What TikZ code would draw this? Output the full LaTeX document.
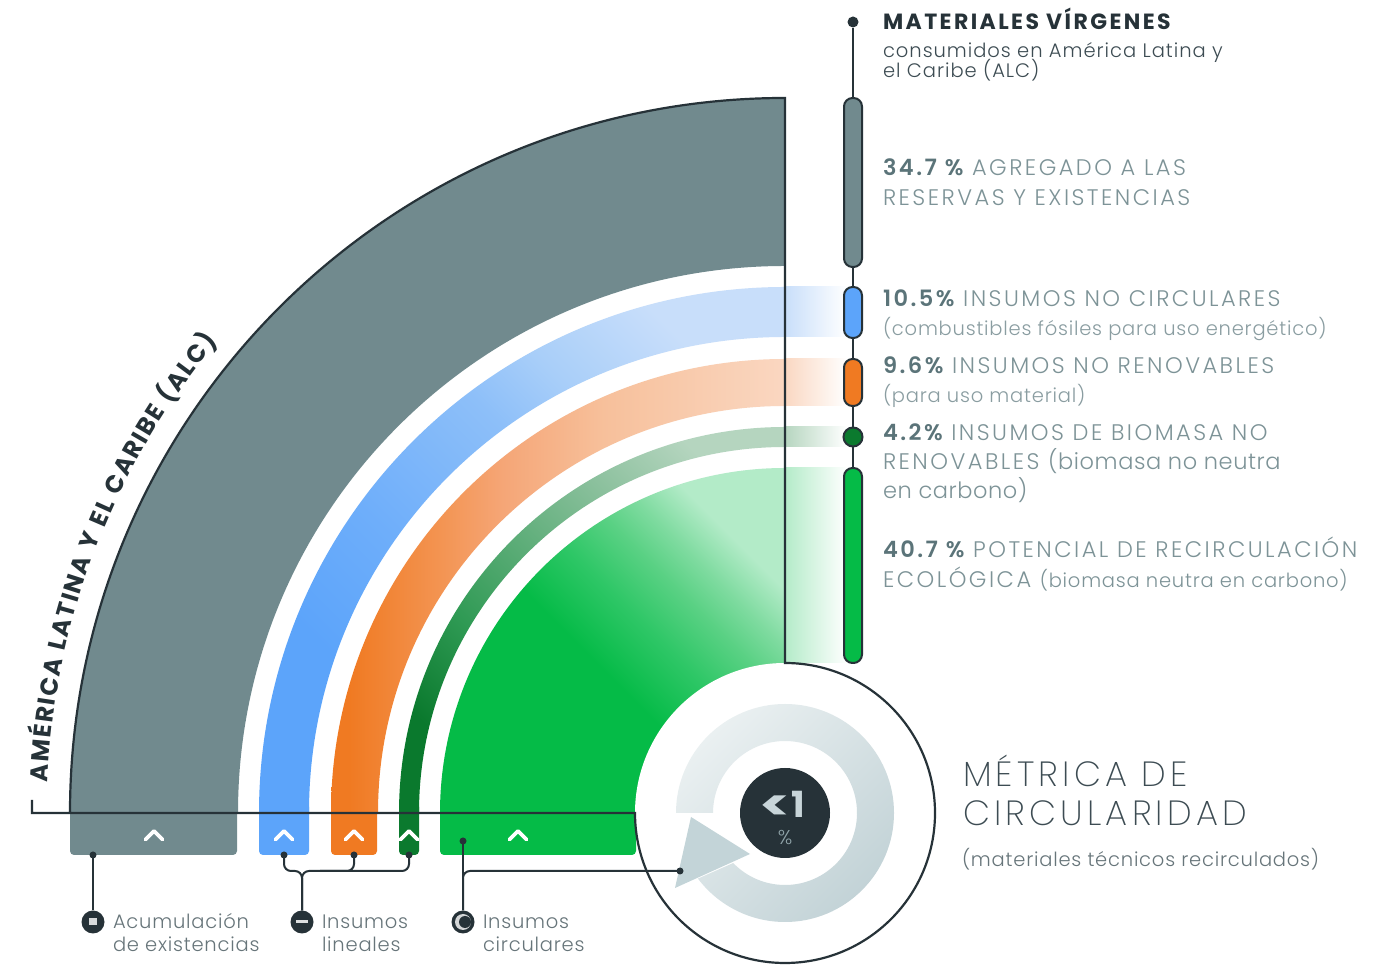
\documentclass[tikz,border=0pt]{standalone}
\usepackage{fontspec}
\usepackage{graphicx}
\setmainfont{Poppins}
\IfFontExistsTF{Poppins Light}{\newfontfamily\lf{Poppins Light}}{\newfontfamily\lf{Poppins}}
\IfFontExistsTF{Poppins ExtraLight}{\newfontfamily\xlf{Poppins ExtraLight}}{\let\xlf\lf}
\usetikzlibrary{decorations.text}
\definecolor{dark}{HTML}{263238}
\definecolor{grayband}{HTML}{718A8E}
\definecolor{blueS}{HTML}{5CA4FA}
\definecolor{blueA}{HTML}{6EAEFA}
\definecolor{blueB}{HTML}{8DBFF9}
\definecolor{blueC}{HTML}{A8CEF9}
\definecolor{blueL}{HTML}{C8DEFA}
\definecolor{orS}{HTML}{F07A22}
\definecolor{orA}{HTML}{F39452}
\definecolor{orB}{HTML}{F5A677}
\definecolor{orC}{HTML}{F7C09B}
\definecolor{orL}{HTML}{FAD7C1}
\definecolor{dgS}{HTML}{0A792D}
\definecolor{dgA}{HTML}{2F9A54}
\definecolor{dgB}{HTML}{8FC2A0}
\definecolor{dgL}{HTML}{B5D5BF}
\definecolor{dgP}{HTML}{0B7A2E}
\definecolor{gnS}{HTML}{05BB47}
\definecolor{gnA}{HTML}{2FC767}
\definecolor{gnB}{HTML}{5AD184}
\definecolor{gnC}{HTML}{7FDBA0}
\definecolor{gnL}{HTML}{B3EBC8}
\definecolor{ringL}{HTML}{EAF0F1}
\definecolor{ringD}{HTML}{C3D3D7}
\definecolor{arrowc}{HTML}{C3D4D8}
\definecolor{numc}{HTML}{5B7479}
\definecolor{labc}{HTML}{7D9397}
\definecolor{subc}{HTML}{8A9DA1}
\definecolor{txtdark}{HTML}{3D4C53}
\definecolor{legc}{HTML}{67757A}
\definecolor{pctc}{HTML}{C8D5D9}
\definecolor{pctl}{HTML}{8FA3A8}
\pgfdeclarehorizontalshading{blueband}{100bp}{color(0bp)=(blueS); color(30bp)=(blueS); color(42bp)=(blueA); color(57bp)=(blueB); color(64bp)=(blueC); color(75bp)=(blueL); color(100bp)=(blueL)}
\pgfdeclarehorizontalshading{orband}{100bp}{color(0bp)=(orS); color(27bp)=(orS); color(37bp)=(orA); color(44bp)=(orB); color(55bp)=(orC); color(75bp)=(orL); color(100bp)=(orL)}
\pgfdeclarehorizontalshading{dgband}{100bp}{color(0bp)=(dgS); color(25bp)=(dgS); color(38bp)=(dgA); color(64bp)=(dgB); color(75bp)=(dgL); color(100bp)=(dgL)}
\pgfdeclarehorizontalshading{gnband}{100bp}{color(0bp)=(gnS); color(46bp)=(gnS); color(55bp)=(gnA); color(62bp)=(gnB); color(67bp)=(gnC); color(73bp)=(gnL); color(100bp)=(gnL)}
\pgfdeclarehorizontalshading{ringsh}{100bp}{color(0bp)=(ringD); color(25bp)=(ringD); color(75bp)=(ringL); color(100bp)=(ringL)}
\newcommand\capls{\addfontfeatures{LetterSpace=11}}
\newcommand\lowls{\addfontfeatures{LetterSpace=2.5}}
\begin{document}
\begin{tikzpicture}[x=1pt,y=1pt,
  txt/.style={anchor=base west,inner sep=0pt,outer sep=0pt},
  outline/.style={draw=dark,line width=2.2pt},
  conn/.style={draw=dark,line width=2pt},
  dotc/.style={circle,fill=dark,inner sep=0pt,minimum size=7pt},
  bullet/.style={circle,fill=dark,inner sep=0pt,minimum size=23pt},
  chev/.style={draw=white,line width=3.6pt,line cap=round,line join=round},
  pill/.style={draw=dark,line width=2pt,rounded corners=8.5pt},
  bigtxt/.style={txt,font=\xlf\fontsize{35}{40}\selectfont\addfontfeatures{LetterSpace=12},text=txtdark},
  labtxt/.style={txt,font=\lf\fontsize{22.5}{26}\selectfont\capls,text=labc},
  subtxt/.style={txt,font=\lf\fontsize{19.5}{22}\selectfont\addfontfeatures{LetterSpace=4},text=subc},
  legtxt/.style={txt,font=\lf\fontsize{19.5}{22}\selectfont\addfontfeatures{LetterSpace=4},text=legc}]
\useasboundingbox (0,0) rectangle (1399,965);
\fill[white] (0,0) rectangle (1399,965);
\coordinate (C) at (785,152);
% bottom bars
\fill[grayband,rounded corners=4pt] (70,110) rectangle (237,162);
\fill[blueS,rounded corners=4pt] (259,110) rectangle (309,162);
\fill[orS,rounded corners=4pt] (331,110) rectangle (377,162);
\fill[dgP,rounded corners=4pt] (399,110) rectangle (419,162);
\fill[gnS,rounded corners=4pt] (440,110) rectangle (636,162);
% bands
\fill[grayband] (70,152) arc[start angle=180,end angle=90,radius=715] -- (785,699) arc[start angle=90,end angle=180,radius=547] -- cycle;
\shade[shading=blueband,shading angle=45] (259,152) arc[start angle=180,end angle=90,radius=526] -- (785,628) arc[start angle=90,end angle=180,radius=476] -- cycle;
\shade[shading=orband] (331,152) arc[start angle=180,end angle=90,radius=454] -- (785,559) arc[start angle=90,end angle=180,radius=407] -- cycle;
\shade[shading=dgband,shading angle=45] (399,152) arc[start angle=180,end angle=90,radius=386] -- (785,518) arc[start angle=90,end angle=180,radius=366] -- cycle;
\shade[shading=gnband,shading angle=45] (440,152) arc[start angle=180,end angle=90,radius=345] -- (C) -- cycle;
% extensions to the right
\shade[left color=blueL,right color=white] (784,628) rectangle (847,678);
\shade[left color=orL,right color=white] (784,559) rectangle (847,606);
\shade[left color=dgL,right color=white] (784,518) rectangle (847,538);
\shade[left color=gnL,right color=white] (784,302) rectangle (847,497);
% circle
\fill[white] (C) circle (150);
% circular arrow
\shade[shading=ringsh,shading angle=135] (676,152) arc[start angle=180,end angle=-143,radius=109] -- ([shift={(-136:72)}]C) arc[start angle=-136,end angle=180,radius=72] -- cycle;
\fill[arrowc] (691,148) -- (750,111) -- (675,77) -- cycle;
\node[circle,fill=dark,inner sep=0pt,minimum size=90pt] (ctr) at (C) {};
\node[anchor=base,inner sep=0pt,text=pctc,font=\bfseries\fontsize{36}{40}\selectfont] (lt1) at (782,147) {\raisebox{-3pt}{\scalebox{1.6}[1.2]{<}}1};
\node[anchor=base,inner sep=0pt,text=pctl,font=\lf\fontsize{20}{24}\selectfont] (pc) at (785,120) {\%};
% outline
\draw[outline] (32,165) -- (32,152) -- (635,152) arc[start angle=180,end angle=450,radius=150] -- (785,867) arc[start angle=90,end angle=180,radius=715];
% chevrons
\foreach \cx in {154,284,354,409,518} {\draw[chev] (\cx-8.5,125.5) -- (\cx,134) -- (\cx+8.5,125.5);}
% connectors
\coordinate (dA) at (93,110);
\coordinate (dB) at (284,110);
\coordinate (dO) at (354,110);
\coordinate (dG) at (409,110);
\coordinate (dC) at (463,124);
\coordinate (dR) at (680,94);
\coordinate (jL) at (302,94);
\coordinate (jLo) at (320,94);
\node[bullet] (bA) at (93,43) {};
\node[bullet] (bL) at (302,43) {};
\node[bullet] (bC) at (463,43) {};
\draw[conn] (dA) -- (bA);
\draw[conn,rounded corners=7pt] (dB) |- (jL) -- (bL);
\draw[conn,rounded corners=7pt] (dG) |- (jL) -- (bL);
\draw[conn,rounded corners=7pt] (dO) |- (jLo);
\draw[conn] (dC) -- (bC);
\draw[conn,rounded corners=7pt] (dR) -| (bC);
\foreach \d in {dA,dB,dO,dG,dC,dR} {\node[dotc] at (\d) {};}
% bullet icons
\fill[white!82!dark] (89,39.5) rectangle (97,46.5);
\fill[white!85!dark] (296,41.5) rectangle (308,44.5);
\fill[white!80!dark] (463,43) circle (8);
\fill[dark] (465,43) circle (6);
% right column
\node[dotc,minimum size=11pt] (top) at (853,943) {};
\draw[conn] (top) -- (853,302);
\filldraw[pill,fill=grayband] (844,698) rectangle (862,867);
\filldraw[pill,fill=blueS] (844,627) rectangle (862,678);
\filldraw[pill,fill=orS] (844,559) rectangle (862,606);
\filldraw[draw=dark,line width=2pt,fill=dgP] (853,528) circle (9.5);
\filldraw[pill,fill=gnS] (844,302) rectangle (862,497);
% arc text
\path[decorate,decoration={text along path,text align=fit to path,text={|\bfseries\fontsize{24.5}{28}\selectfont\color{dark}|AMÉRICA LATINA Y EL CARIBE (ALC)}}] ([shift={(177.6:738)}]C) arc[start angle=177.6,end angle=140.3,radius=738];
% texts
\node[txt,font=\bfseries\fontsize{22}{25}\selectfont\addfontfeatures{LetterSpace=11},text=dark] (h1) at (883,935.5) {MATERIALES VÍRGENES};
\node[txt,font=\lf\fontsize{19.5}{22}\selectfont\addfontfeatures{LetterSpace=5},text=txtdark] (h2) at (883,907.5) {consumidos en América Latina y};
\node[txt,font=\lf\fontsize{19.5}{22}\selectfont\addfontfeatures{LetterSpace=5},text=txtdark] (h3) at (883,887.5) {el Caribe (ALC)};
\node[labtxt] (a1) at (883,789) {{\bfseries\color{numc}34.7 \%} AGREGADO A LAS};
\node[labtxt] (a2) at (883,759) {RESERVAS Y EXISTENCIAS};
\node[labtxt] (b1) at (883,658) {{\bfseries\color{numc}10.5\%} INSUMOS NO CIRCULARES};
\node[subtxt] (b2) at (883,629) {(combustibles fósiles para uso energético)};
\node[labtxt] (c1) at (883,591) {{\bfseries\color{numc}9.6\%} INSUMOS NO RENOVABLES};
\node[subtxt] (c2) at (883,562) {(para uso material)};
\node[labtxt] (d1) at (883,524) {{\bfseries\color{numc}4.2\%} INSUMOS DE BIOMASA NO};
\node[labtxt] (d2) at (883,495) {RENOVABLES {\lowls(biomasa no neutra}};
\node[labtxt] (d3) at (883,466) {{\lowls en carbono)}};
\node[labtxt] (e1) at (883,407) {{\bfseries\color{numc}40.7 \%} POTENCIAL DE RECIRCULACIÓN};
\node[labtxt] (e2) at (883,377) {ECOLÓGICA {\fontsize{19.5}{22}\selectfont\addfontfeatures{LetterSpace=4}(biomasa neutra en carbono)}};
\node[bigtxt] (m1) at (963,178) {MÉTRICA DE};
\node[bigtxt] (m2) at (963,139) {CIRCULARIDAD};
\node[txt,font=\lf\fontsize{19.5}{22}\selectfont\addfontfeatures{LetterSpace=4},text=legc] (m3) at (962,98) {(materiales técnicos recirculados)};
\node[legtxt] (l1) at (113,36) {Acumulación};
\node[legtxt] (l2) at (113,13) {de existencias};
\node[legtxt] (l3) at (322,36) {Insumos};
\node[legtxt] (l4) at (322,13) {lineales};
\node[legtxt] (l5) at (483,36) {Insumos};
\node[legtxt] (l6) at (483,13) {circulares};
\end{tikzpicture}
\end{document}
